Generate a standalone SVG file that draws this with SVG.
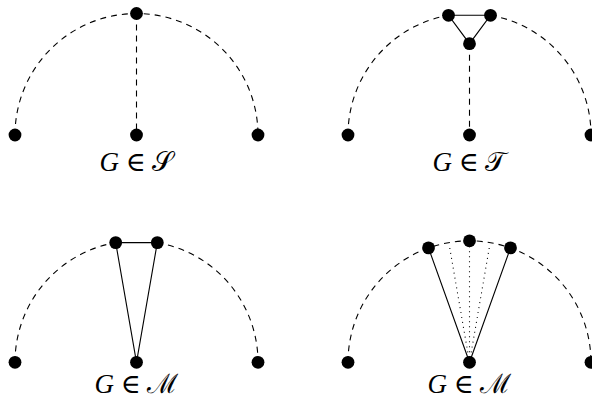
<svg xmlns="http://www.w3.org/2000/svg" width="592" height="401" viewBox="0 0 592 401">
<style>
.dash{fill:none;stroke:#000;stroke-width:1.1;stroke-dasharray:6 5}
.solid{fill:none;stroke:#000;stroke-width:1.1}
.dot{fill:none;stroke:#000;stroke-width:1.1;stroke-dasharray:1 4}
.node{fill:#000}
.lbl{font-family:"Liberation Serif","DejaVu Serif",serif;font-size:27px;fill:#000}
.it{font-style:italic}
</style>
<rect width="592" height="401" fill="#fff"/>
<g id="connectors">
  <path class="dash" d="M15,135 A121.5,121.5 0 0 1 258,135"/>
  <path class="dash" d="M136.5,13.5 L136.5,135"/>
  <path class="dash" d="M348,135 A121.5,121.5 0 0 1 448.5,15.3"/>
  <path class="dash" d="M490.5,15.3 A121.5,121.5 0 0 1 591,135"/>
  <path class="solid" d="M448.5,15.3 L490.5,15.3 L469.5,43.7 Z"/>
  <path class="dash" d="M469.5,43.7 L469.5,135"/>
  <path class="dash" d="M15,362.3 A121.5,121.5 0 0 1 115.7,242.6"/>
  <path class="dash" d="M157.3,242.6 A121.5,121.5 0 0 1 258,362.3"/>
  <path class="solid" d="M115.7,242.6 L157.3,242.6 M115.7,242.6 L136.5,362.3 L157.3,242.6"/>
  <path class="dash" d="M348,362.3 A121.5,121.5 0 0 1 591,362.3"/>
  <path class="solid" d="M428.5,247.9 L469.5,362.3 L510.5,247.9"/>
  <path class="dot" d="M469.5,362.3 L449.5,246.5 M469.5,362.3 L469.5,246.5 M469.5,362.3 L489.5,246.5"/>
</g>
<g id="n1-top"><circle class="node" cx="136.5" cy="13.5" r="6.4"/></g>
<g id="n1-left"><circle class="node" cx="15" cy="135" r="6.4"/></g>
<g id="n1-mid"><circle class="node" cx="136.5" cy="135" r="6.4"/></g>
<g id="n1-right"><circle class="node" cx="258" cy="135" r="6.4"/></g>
<g id="n2-topl"><circle class="node" cx="448.5" cy="15.3" r="6.4"/></g>
<g id="n2-topr"><circle class="node" cx="490.5" cy="15.3" r="6.4"/></g>
<g id="n2-tri"><circle class="node" cx="469.5" cy="43.7" r="6.4"/></g>
<g id="n2-left"><circle class="node" cx="348" cy="135" r="6.4"/></g>
<g id="n2-mid"><circle class="node" cx="469.5" cy="135" r="6.4"/></g>
<g id="n2-right"><circle class="node" cx="591" cy="135" r="6.4"/></g>
<g id="n3-topl"><circle class="node" cx="115.7" cy="242.6" r="6.4"/></g>
<g id="n3-topr"><circle class="node" cx="157.3" cy="242.6" r="6.4"/></g>
<g id="n3-left"><circle class="node" cx="15" cy="362.3" r="6.4"/></g>
<g id="n3-mid"><circle class="node" cx="136.5" cy="362.3" r="6.4"/></g>
<g id="n3-right"><circle class="node" cx="258" cy="362.3" r="6.4"/></g>
<g id="n4-topl"><circle class="node" cx="428.5" cy="247.9" r="6.4"/></g>
<g id="n4-top"><circle class="node" cx="469.5" cy="240.8" r="6.4"/></g>
<g id="n4-topr"><circle class="node" cx="510.5" cy="247.9" r="6.4"/></g>
<g id="n4-left"><circle class="node" cx="348" cy="362.3" r="6.4"/></g>
<g id="n4-mid"><circle class="node" cx="469.5" cy="362.3" r="6.4"/></g>
<g id="n4-right"><circle class="node" cx="591" cy="362.3" r="6.4"/></g>
<g id="labels">
  <text class="lbl" x="136.5" y="171" text-anchor="middle"><tspan class="it">G</tspan> ∈ 𝒮</text>
  <text class="lbl" x="469.5" y="171" text-anchor="middle"><tspan class="it">G</tspan> ∈ 𝒯</text>
  <text class="lbl" x="136.5" y="393" text-anchor="middle"><tspan class="it">G</tspan> ∈ ℳ</text>
  <text class="lbl" x="469.5" y="393" text-anchor="middle"><tspan class="it">G</tspan> ∈ ℳ</text>
</g>
</svg>
